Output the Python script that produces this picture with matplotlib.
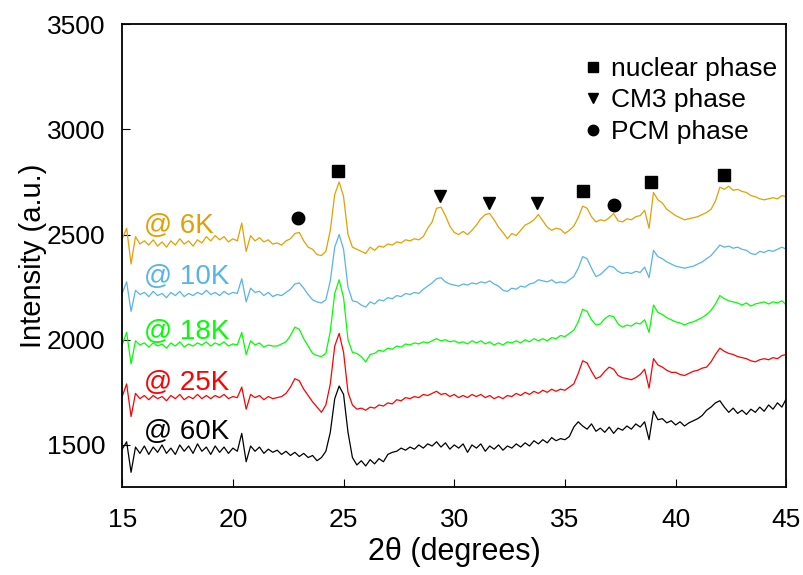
import numpy as np
import matplotlib
matplotlib.use("Agg")
import matplotlib.pyplot as plt

plt.rcParams['font.family'] = ['Liberation Sans', 'DejaVu Sans']

# 2theta grid, 0.2 degree step
two_theta = np.round(np.linspace(15, 45, 151), 1)

# intensities (already offset as plotted)
int_6K = [
    2480, 2530, 2360, 2490, 2455, 2470, 2450, 2475, 2445, 2465,
    2440, 2470, 2450, 2480, 2455, 2470, 2445, 2475, 2460, 2490,
    2470, 2495, 2475, 2490, 2465, 2480, 2470, 2555, 2420, 2495,
    2470, 2485, 2465, 2475, 2455, 2460, 2450, 2470, 2480, 2505,
    2510, 2470, 2440, 2430, 2405, 2400, 2420, 2520, 2690, 2750,
    2680, 2500, 2440, 2430, 2420, 2410, 2440, 2425, 2445, 2440,
    2455, 2450, 2465, 2460, 2475, 2470, 2480, 2475, 2490, 2530,
    2560, 2625, 2630, 2590, 2540, 2510, 2500, 2515, 2500, 2520,
    2545, 2575, 2595, 2600, 2570, 2535, 2510, 2480, 2505, 2495,
    2520, 2545, 2555, 2570, 2595, 2565, 2535, 2520, 2530, 2525,
    2505, 2520, 2540, 2580, 2635, 2625, 2585, 2560, 2570, 2565,
    2580, 2600, 2565, 2560, 2575, 2570, 2585, 2590, 2615, 2530,
    2700, 2665, 2650, 2620, 2605, 2590, 2580, 2570, 2575, 2580,
    2585, 2595, 2605, 2620, 2660, 2725, 2715, 2730, 2710, 2715,
    2705, 2700, 2685, 2680, 2670, 2665, 2670, 2675, 2670, 2685,
    2680]

int_10K = [
    2220, 2275, 2135, 2235, 2215, 2225, 2205, 2230, 2210, 2220,
    2200, 2225, 2210, 2230, 2205, 2220, 2210, 2225, 2215, 2235,
    2215, 2225, 2210, 2230, 2215, 2225, 2220, 2290, 2180, 2245,
    2225, 2230, 2210, 2225, 2205, 2215, 2210, 2225, 2240, 2265,
    2270, 2245, 2215, 2190, 2180, 2175, 2190, 2280, 2440, 2500,
    2430, 2250, 2185, 2180, 2165, 2155, 2180, 2170, 2190, 2185,
    2200, 2195, 2210, 2205, 2220, 2215, 2225, 2220, 2240, 2255,
    2270, 2290, 2295, 2275, 2265, 2260, 2255, 2265, 2260, 2270,
    2265, 2275, 2270, 2280, 2265, 2255, 2235, 2230, 2245, 2240,
    2255, 2250, 2265, 2270, 2285, 2280, 2275, 2285, 2270, 2275,
    2270, 2285, 2300, 2340, 2395, 2385, 2340, 2300, 2310, 2330,
    2350, 2345, 2325, 2315, 2320, 2315, 2325, 2320, 2345, 2295,
    2425, 2395, 2385, 2370, 2360, 2350, 2345, 2340, 2345, 2350,
    2360, 2370, 2385, 2400, 2425, 2450, 2440, 2445, 2435, 2440,
    2430, 2425, 2410, 2405, 2420, 2415, 2425, 2420, 2430, 2440,
    2430]

int_18K = [
    1975, 2035, 1885, 1995, 1975, 1985, 1965, 1985, 1970, 1980,
    1960, 1985, 1970, 1990, 1965, 1980, 1970, 1985, 1975, 1990,
    1970, 1985, 1975, 1990, 1970, 1980, 1975, 2035, 1930, 1995,
    1975, 1985, 1965, 1975, 1970, 1970, 1980, 1990, 2020, 2060,
    2050, 2005, 1970, 1935, 1925, 1920, 1935, 2040, 2220, 2285,
    2200, 2000, 1940, 1935, 1920, 1895, 1930, 1935, 1950, 1945,
    1960, 1955, 1970, 1965, 1980, 1975, 1985, 1980, 1990, 1985,
    1995, 2005, 1995, 2000, 1990, 1995, 1985, 1990, 1980, 1995,
    1985, 1995, 1980, 1990, 1975, 1985, 1975, 1990, 1985, 1995,
    1985, 2000, 1990, 2005, 1995, 2005, 1995, 2010, 2005, 2020,
    2015, 2030, 2045, 2085, 2145, 2135, 2095, 2070, 2075, 2100,
    2115, 2110, 2075, 2060, 2070, 2065, 2080, 2075, 2095, 2035,
    2165, 2130, 2120, 2105, 2095, 2085, 2080, 2070, 2080, 2085,
    2095, 2105, 2120, 2140, 2170, 2210, 2195, 2185, 2180, 2175,
    2165, 2175, 2160, 2170, 2175, 2180, 2170, 2180, 2175, 2185,
    2165]

int_25K = [
    1730, 1790, 1635, 1745, 1720, 1735, 1715, 1735, 1720, 1730,
    1710, 1735, 1720, 1740, 1715, 1730, 1720, 1740, 1720, 1735,
    1720, 1735, 1725, 1740, 1720, 1730, 1725, 1775, 1670, 1740,
    1725, 1735, 1715, 1730, 1720, 1725, 1730, 1745, 1775, 1815,
    1805, 1765, 1735, 1705, 1680, 1655, 1690, 1790, 1970, 2030,
    1940, 1750, 1690, 1670, 1675, 1665, 1680, 1675, 1690, 1685,
    1700, 1695, 1715, 1710, 1725, 1720, 1730, 1725, 1740, 1735,
    1745, 1755, 1740, 1745, 1730, 1740, 1725, 1735, 1725, 1740,
    1730, 1740, 1725, 1735, 1720, 1730, 1720, 1735, 1730, 1745,
    1735, 1750, 1740, 1755, 1745, 1760, 1750, 1765, 1755, 1765,
    1760, 1775, 1790, 1840, 1900, 1890, 1850, 1815, 1825, 1850,
    1870, 1860, 1830, 1820, 1815, 1810, 1820, 1835, 1860, 1770,
    1910, 1880, 1870, 1855, 1845, 1845, 1835, 1830, 1840, 1850,
    1855, 1865, 1870, 1895, 1930, 1960, 1945, 1935, 1930, 1920,
    1915, 1910, 1900, 1895, 1905, 1910, 1905, 1915, 1910, 1925,
    1930]

int_60K = [
    1480, 1515, 1370, 1490, 1460, 1495, 1455, 1490, 1465, 1500,
    1460, 1485, 1455, 1500, 1470, 1495, 1460, 1505, 1470, 1490,
    1455, 1495, 1465, 1490, 1460, 1485, 1470, 1555, 1420, 1495,
    1470, 1490, 1460, 1480, 1465, 1475, 1455, 1470, 1450, 1465,
    1445, 1460, 1440, 1450, 1425, 1440, 1470, 1560, 1720, 1780,
    1740, 1560, 1440, 1405, 1425, 1400, 1430, 1410, 1435, 1420,
    1455, 1465, 1470, 1485, 1475, 1490, 1480, 1500, 1485, 1505,
    1495, 1515, 1490, 1510, 1480, 1500, 1485, 1505, 1465, 1500,
    1485, 1505, 1470, 1495, 1480, 1500, 1475, 1495, 1485, 1505,
    1490, 1510, 1495, 1520, 1505, 1525, 1510, 1535, 1520, 1530,
    1525, 1540, 1585, 1610, 1590, 1575, 1600, 1565, 1580, 1560,
    1585, 1555, 1580, 1570, 1590, 1575, 1600, 1585, 1610, 1525,
    1660, 1620, 1625, 1605, 1615, 1595, 1610, 1590, 1605, 1615,
    1625, 1640, 1665, 1680, 1700, 1710, 1680, 1655, 1675, 1650,
    1665, 1645, 1670, 1655, 1680, 1660, 1690, 1670, 1700, 1680,
    1720]

curves = [int_6K, int_10K, int_18K, int_25K, int_60K]
temps = ['@ 6K', '@ 10K', '@ 18K', '@ 25K', '@ 60K']
colors = ['#E69F00', '#56B4E9', '#00FF00', '#FF0000', '#000000']
label_y = [2540, 2300, 2035, 1795, 1560]

# phase markers
nuclear_x = [24.75, 35.8, 38.9, 42.2]
nuclear_y = [2800, 2705, 2750, 2785]
cm3_x = [29.35, 31.55, 33.75]
cm3_y = [2685, 2650, 2650]
pcm_x = [22.95, 37.2]
pcm_y = [2580, 2640]

fig = plt.figure(figsize=(8.04, 5.75), dpi=100)
ax = fig.add_axes([0.152, 0.153, 0.826, 0.805])

for y, c in zip(curves, colors):
    ax.plot(two_theta, y, color=c, lw=0.9)

for t, c, ly in zip(temps, colors, label_y):
    ax.text(16.0, ly, t, color=c, fontsize=20, ha='left', va='center')

ax.plot(nuclear_x, nuclear_y, 's', color='k', ms=8.5, label='nuclear phase')
ax.plot(cm3_x, cm3_y, 'v', color='k', ms=9, label='CM3 phase')
ax.plot(pcm_x, pcm_y, 'o', color='k', ms=9, label='PCM phase')

leg = ax.legend(loc='upper right', bbox_to_anchor=(1.01, 0.963), frameon=False,
                fontsize=19, handlelength=0.8, handletextpad=0.3,
                labelspacing=0.28, borderaxespad=0.2)
for h in leg.legend_handles:
    h.set_markersize(7.5)

ax.set_xlim(15, 45)
ax.set_ylim(1300, 3500)
ax.set_xticks([15, 20, 25, 30, 35, 40, 45])
ax.set_yticks([1500, 2000, 2500, 3000, 3500])
ax.tick_params(direction='in', length=6, labelsize=19, top=False, right=False)
ax.tick_params(axis='x', pad=15)
ax.tick_params(axis='y', pad=12)
ax.set_xlabel('2θ (degrees)', fontsize=22, labelpad=4)
ax.set_ylabel('Intensity (a.u.)', fontsize=21, labelpad=0)
for s in ax.spines.values():
    s.set_linewidth(1.3)

fig.savefig('out.png', dpi=100)
